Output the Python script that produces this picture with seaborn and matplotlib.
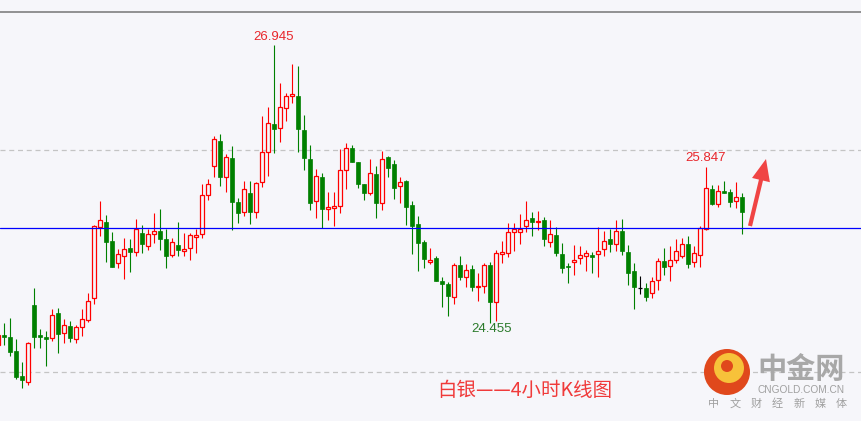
import numpy as np
import pandas as pd
import matplotlib
matplotlib.use("Agg")
import matplotlib.pyplot as plt
import seaborn as sns
from matplotlib.patches import Circle

# 白银 4小时K线 (价格由图上读取)
opens = [24.228, 24.319, 24.300, 24.174, 23.947, 23.893, 24.590, 24.319, 24.300, 24.291,
         24.518, 24.337, 24.400, 24.282, 24.391, 24.455, 24.654, 25.297, 25.342, 25.170,
         24.971, 25.034, 25.106, 25.070, 25.242, 25.124, 25.233, 25.260, 25.188, 25.043,
         25.134, 25.079, 25.106, 25.206, 25.233, 25.586, 25.849, 26.075, 25.749, 25.921,
         25.523, 25.432, 25.604, 25.432, 25.704, 25.976, 26.229, 26.193, 26.374, 26.483,
         26.483, 26.175, 25.912, 25.532, 25.749, 25.460, 25.469, 25.487, 25.813, 26.012,
         25.885, 25.686, 25.604, 25.776, 25.514, 25.930, 25.867, 25.668, 25.713, 25.496,
         25.324, 25.161, 24.980, 25.016, 24.808, 24.780, 24.663, 24.952, 24.844, 24.916,
         24.753, 24.762, 24.952, 24.617, 25.052, 25.061, 25.251, 25.251, 25.306, 25.378,
         25.342, 25.360, 25.161, 25.224, 25.052, 24.943, 24.980, 25.016, 25.034, 25.043,
         25.052, 25.097, 25.188, 25.143, 25.260, 25.070, 24.898, 24.744, 24.744, 24.699,
         24.817, 24.989, 24.943, 24.998, 25.034, 25.143, 24.980, 25.043, 25.278, 25.641,
         25.505, 25.623, 25.613, 25.532, 25.568]
highs = [24.337, 24.427, 24.473, 24.282, 24.074, 24.255, 24.744, 24.373, 24.355, 24.554,
         24.563, 24.464, 24.445, 24.409, 24.554, 24.699, 25.315, 25.532, 25.405, 25.251,
         25.097, 25.197, 25.188, 25.369, 25.315, 25.278, 25.423, 25.460, 25.278, 25.197,
         25.342, 25.242, 25.242, 25.278, 25.686, 25.731, 26.121, 26.139, 25.958, 26.030,
         25.559, 25.713, 25.713, 25.704, 26.302, 26.383, 26.945, 26.600, 26.510, 26.772,
         26.754, 26.311, 26.039, 25.822, 25.785, 25.613, 25.613, 26.003, 26.057, 26.039,
         25.885, 25.686, 25.912, 25.849, 25.985, 25.939, 25.903, 25.749, 25.722, 25.532,
         25.396, 25.179, 25.106, 25.034, 24.844, 24.798, 24.971, 25.034, 24.961, 24.952,
         24.880, 24.971, 24.980, 25.088, 25.170, 25.333, 25.333, 25.414, 25.532, 25.432,
         25.441, 25.387, 25.360, 25.297, 25.152, 24.971, 25.134, 25.124, 25.088, 25.070,
         25.297, 25.260, 25.278, 25.360, 25.369, 25.134, 24.971, 24.853, 24.789, 24.844,
         25.016, 25.106, 25.124, 25.188, 25.197, 25.215, 25.124, 25.306, 25.840, 25.677,
         25.677, 25.713, 25.641, 25.704, 25.604]
lows = [24.210, 24.228, 24.128, 23.920, 23.839, 23.866, 24.201, 24.201, 24.038, 24.264,
        24.156, 24.246, 24.255, 24.246, 24.310, 24.436, 24.599, 25.215, 24.980, 24.934,
        24.925, 24.826, 24.889, 25.034, 25.061, 25.088, 25.152, 25.088, 24.925, 25.025,
        25.034, 25.034, 24.998, 25.061, 25.197, 25.541, 25.749, 25.668, 25.613, 25.269,
        25.333, 25.396, 25.324, 25.378, 25.659, 25.758, 25.967, 26.066, 26.256, 26.419,
        25.976, 25.813, 25.451, 25.378, 25.288, 25.360, 25.306, 25.423, 25.641, 25.885,
        25.650, 25.541, 25.586, 25.378, 25.451, 25.749, 25.550, 25.514, 25.315, 25.052,
        24.898, 24.925, 24.961, 24.808, 24.572, 24.491, 24.599, 24.817, 24.753, 24.717,
        24.626, 24.699, 24.427, 24.445, 24.971, 25.025, 25.079, 25.143, 25.251, 25.215,
        25.269, 25.124, 25.115, 25.034, 24.880, 24.789, 24.862, 24.961, 24.898, 24.880,
        24.844, 25.034, 25.070, 25.079, 25.043, 24.771, 24.554, 24.690, 24.626, 24.654,
        24.726, 24.862, 24.808, 24.971, 25.016, 24.925, 24.934, 24.934, 25.269, 25.496,
        25.478, 25.604, 25.478, 25.469, 25.233]
closes = [24.319, 24.300, 24.165, 23.938, 23.911, 24.246, 24.300, 24.300, 24.282, 24.500,
          24.328, 24.409, 24.291, 24.391, 24.464, 24.626, 25.306, 25.360, 25.161, 24.934,
          25.052, 25.097, 25.070, 25.278, 25.143, 25.233, 25.260, 25.188, 25.034, 25.161,
          25.088, 25.097, 25.224, 25.224, 25.586, 25.686, 26.093, 25.749, 25.930, 25.523,
          25.423, 25.641, 25.432, 25.695, 25.976, 26.238, 26.184, 26.383, 26.483, 26.501,
          26.184, 25.921, 25.514, 25.758, 25.460, 25.478, 25.487, 25.813, 26.012, 25.885,
          25.686, 25.604, 25.785, 25.514, 25.912, 25.831, 25.650, 25.704, 25.478, 25.306,
          25.152, 25.007, 24.998, 24.808, 24.780, 24.672, 24.952, 24.844, 24.907, 24.753,
          24.762, 24.952, 24.617, 25.061, 25.070, 25.251, 25.278, 25.278, 25.360, 25.342,
          25.351, 25.188, 25.233, 25.061, 24.925, 24.934, 24.998, 25.043, 25.061, 25.025,
          25.079, 25.170, 25.143, 25.260, 25.079, 24.880, 24.753, 24.744, 24.663, 24.808,
          24.989, 24.934, 24.998, 25.079, 25.143, 24.961, 25.061, 25.288, 25.650, 25.505,
          25.623, 25.604, 25.523, 25.568, 25.432]

# 参考线
top_line = 27.243
dashed_lines = [25.994, 23.984]
blue_line = 25.288

# 标注
high_label, high_idx = "26.945", 46
low_label, low_idx = "24.455", 82.3
last_label, last_idx = "25.847", 118

title_text = "白银——4小时K线图"
slogan_chars = ["中", "文", "财", "经", "新", "媒", "体"]

df = pd.DataFrame({"open": opens, "high": highs, "low": lows, "close": closes})
df["idx"] = np.arange(len(df))

bg = "#F6F6FA"
red = "#FF0000"
green = "#008000"
cjk = ["Noto Sans CJK SC", "DejaVu Sans"]

sns.set_theme(style="white", rc={"axes.facecolor": bg, "figure.facecolor": bg})
plt.rcParams["font.family"] = ["Liberation Sans", "Noto Sans CJK SC", "DejaVu Sans"]

fig = plt.figure(figsize=(8.62, 4.21), dpi=100)
ax = fig.add_axes([0, 0, 1, 1])
ax.set_facecolor(bg)

ax.set_xlim(0.333, 144.0)
ax.set_ylim(23.540, 27.352)
ax.axis("off")

# 水平线
ax.axhline(top_line, color="#808080", lw=1.2, zorder=1)
for lv in dashed_lines:
    ax.axhline(lv, color="#C4C4C4", lw=0.9, ls=(0, (4, 3)), zorder=1)
ax.axhline(blue_line, color="#0000FF", lw=0.9, zorder=4)

# K线
minh = 0.012
up = df[df.close > df.open]
dn = df[df.close < df.open]
dj = df[df.close == df.open]

ax.vlines(up.idx, up.low, up.high, color=red, lw=0.8, zorder=2)
ax.vlines(dn.idx, dn.low, dn.high, color=green, lw=0.8, zorder=2)
ax.vlines(dj.idx, dj.low, dj.high, color="black", lw=0.8, zorder=2)

ax.bar(up.idx, np.maximum(up.close - up.open, minh), bottom=up.open, width=0.68,
       facecolor=bg, edgecolor=red, linewidth=0.9, zorder=3)
ax.bar(dn.idx, np.maximum(dn.open - dn.close, minh), bottom=dn.close, width=0.75,
       facecolor=green, edgecolor=green, linewidth=0.5, zorder=3)
ax.hlines(dj.close, dj.idx - 0.4, dj.idx + 0.4, color="black", lw=0.9, zorder=3)

# 价格标注
ax.text(high_idx, 27.017, high_label, color="#E8262B", fontsize=9.5, ha="center", va="center")
ax.text(low_idx, 24.373, low_label, color="#2A7A2A", fontsize=9.5, ha="center", va="center")
ax.text(last_idx, 25.921, last_label, color="#E8262B", fontsize=9.5, ha="center", va="center")

# 箭头
ax.annotate("", xy=(766 / 862, 1 - 159 / 421), xytext=(750 / 862, 1 - 226 / 421),
            xycoords="axes fraction", textcoords="axes fraction",
            arrowprops=dict(arrowstyle="simple,head_length=1.3,head_width=1.1,tail_width=0.25",
                            color="#F04444", shrinkA=0, shrinkB=0, lw=0))

# 标题
ax.text(525 / 862, 1 - 390 / 421, title_text, transform=ax.transAxes,
        color="#F03A3A", fontsize=14, ha="center", va="center", family=cjk)

# 中金网 logo
logo = Circle((727, 421 - 372), 23, transform=None, facecolor="#E0481C", edgecolor="none", zorder=5)
ax.add_artist(logo)
swirl = Circle((729, 421 - 368), 15, transform=None, facecolor="#F7C23A", edgecolor="none", zorder=6)
ax.add_artist(swirl)
inner = Circle((727, 421 - 366), 6, transform=None, facecolor="#E0481C", edgecolor="none", zorder=7)
ax.add_artist(inner)

ax.text(801 / 862, 1 - 369 / 421, "中金网", transform=ax.transAxes, color="#A8A8A8",
        fontsize=21, fontweight="bold", ha="center", va="center", family=cjk)
ax.text(801 / 862, 1 - 390 / 421, "CNGOLD.COM.CN", transform=ax.transAxes, color="#A0A0A0",
        fontsize=7.3, ha="center", va="center")
for k, ch in enumerate(slogan_chars):
    ax.text((714 + k * 21.2) / 862, 1 - 404 / 421, ch, transform=ax.transAxes, color="#A0A0A0",
            fontsize=8, ha="center", va="center", family=cjk)

fig.savefig("out.png", dpi=100, facecolor=bg)
